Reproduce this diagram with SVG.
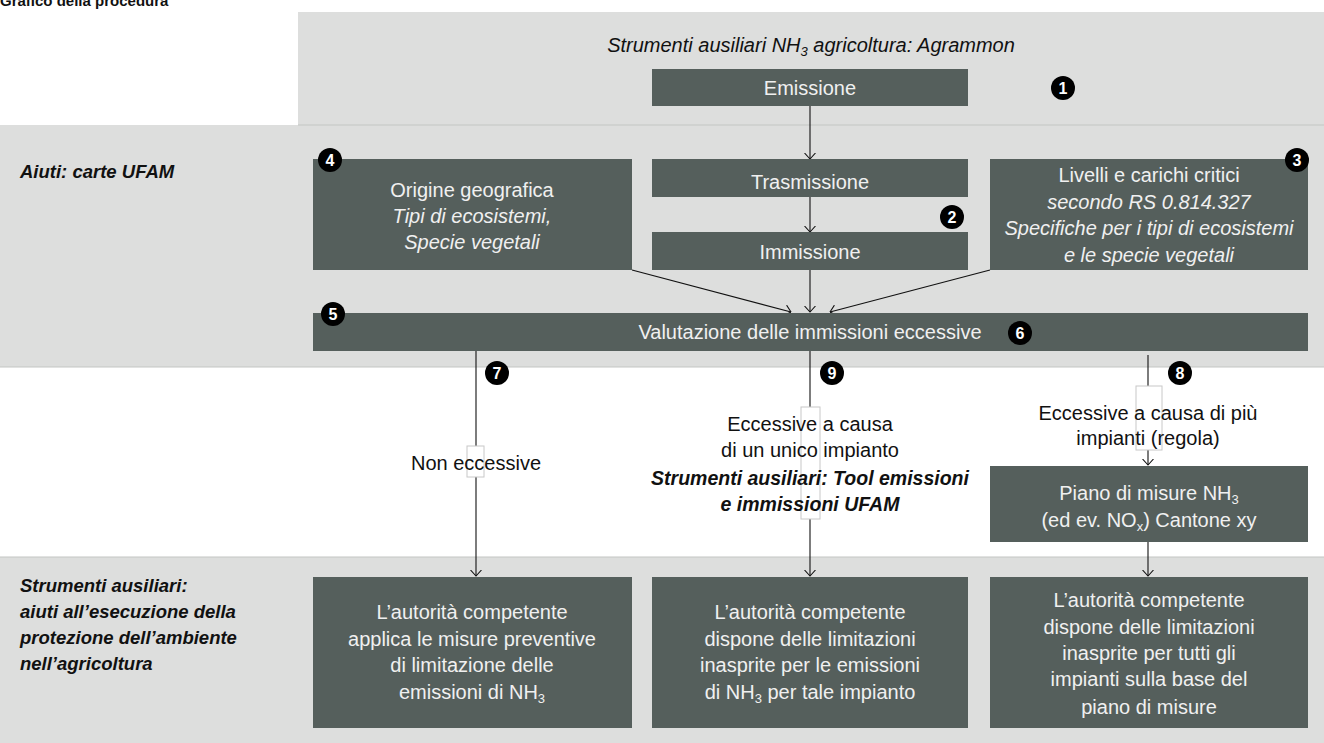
<svg xmlns="http://www.w3.org/2000/svg" width="1324" height="743" viewBox="0 0 1324 743">
<defs>
<style>
.band{fill:#dddedd}
.bline{stroke:#c4c5c4;stroke-width:1.2}
.box{fill:#555f5c}
.bt{font-family:"Liberation Sans",Arial,sans-serif;font-size:20px;fill:#f0f0f0;text-anchor:middle}
.it{font-style:italic}
.lt{font-family:"Liberation Sans",Arial,sans-serif;font-size:20px;fill:#111;text-anchor:middle}
.bi{font-weight:bold;font-style:italic;font-size:19.5px}
.side{font-family:"Liberation Sans",Arial,sans-serif;font-size:18.5px;font-weight:bold;font-style:italic;fill:#111}
.sub{font-size:13px}
.num circle{fill:#000}
.num text{font-family:"Liberation Sans",Arial,sans-serif;font-size:16px;font-weight:bold;fill:#fff;text-anchor:middle}
.con{stroke:#111;stroke-width:1.1;fill:none}
.lbox{fill:#fff;stroke:#c8c8c8;stroke-width:1}
</style>
<marker id="ah" viewBox="0 0 7 12" refX="6.5" refY="6" markerWidth="7" markerHeight="12" markerUnits="userSpaceOnUse" orient="auto">
<path d="M0.5,0.5 L6.5,6 L0.5,11.5" fill="none" stroke="#111" stroke-width="1.1"/>
</marker>
</defs>

<g id="background">
<rect x="298" y="12" width="1026" height="113" class="band"/>
<rect x="0" y="125" width="1324" height="242" class="band"/>
<rect x="0" y="557" width="1324" height="186" class="band"/>
<line x1="298" y1="125" x2="1324" y2="125" class="bline"/>
<line x1="0" y1="367" x2="1324" y2="367" class="bline"/>
<line x1="0" y1="557" x2="1324" y2="557" class="bline"/>
</g>

<g id="labels">
<text x="0" y="6" font-family="Liberation Sans,Arial,sans-serif" font-size="15" font-weight="bold" fill="#111">Grafico della procedura</text>
<text x="811" y="52" class="lt it">Strumenti ausiliari NH<tspan class="sub" dy="4">3</tspan><tspan dy="-4"> agricoltura: Agrammon</tspan></text>
<text x="20" y="178" class="side">Aiuti: carte UFAM</text>
<text class="side"><tspan x="20" y="592">Strumenti ausiliari:</tspan><tspan x="20" y="618">aiuti all’esecuzione della</tspan><tspan x="20" y="644">protezione dell’ambiente</tspan><tspan x="20" y="670">nell’agricoltura</tspan></text>
</g>

<g id="connectors">
<line x1="810" y1="106" x2="810" y2="159" class="con" marker-end="url(#ah)"/>
<line x1="810" y1="197" x2="810" y2="232" class="con" marker-end="url(#ah)"/>
<line x1="632" y1="270" x2="791" y2="312" class="con" marker-end="url(#ah)"/>
<line x1="810" y1="270" x2="810" y2="312" class="con" marker-end="url(#ah)"/>
<line x1="990" y1="270" x2="830" y2="312" class="con" marker-end="url(#ah)"/>
<line x1="476" y1="351" x2="476" y2="576" class="con" marker-end="url(#ah)"/>
<line x1="810" y1="351" x2="810" y2="576" class="con" marker-end="url(#ah)"/>
<line x1="1148" y1="355" x2="1148" y2="465" class="con" marker-end="url(#ah)"/>
<line x1="1148" y1="542" x2="1148" y2="576" class="con" marker-end="url(#ah)"/>
<rect x="467" y="446" width="17" height="31" class="lbox"/>
<rect x="801" y="407" width="19" height="112" class="lbox"/>
<rect x="1136" y="386" width="26" height="64" class="lbox"/>
<text x="476" y="470" class="lt">Non eccessive</text>
<text class="lt"><tspan x="810" y="431">Eccessive a causa</tspan><tspan x="810" y="457">di un unico impianto</tspan><tspan x="810" y="485" class="bi">Strumenti ausiliari: Tool emissioni</tspan><tspan x="810" y="511" class="bi">e immissioni UFAM</tspan></text>
<text class="lt"><tspan x="1148" y="420">Eccessive a causa di più</tspan><tspan x="1148" y="445">impianti (regola)</tspan></text>
</g>

<g id="node-emissione">
<rect x="652" y="69" width="316" height="37" class="box"/>
<text x="810" y="95" class="bt">Emissione</text>
</g>
<g id="node-trasmissione">
<rect x="652" y="159" width="316" height="38" class="box"/>
<text x="810" y="189" class="bt">Trasmissione</text>
</g>
<g id="node-immissione">
<rect x="652" y="232" width="316" height="38" class="box"/>
<text x="810" y="259" class="bt">Immissione</text>
</g>
<g id="node-origine">
<rect x="313" y="159" width="319" height="111" class="box"/>
<text class="bt"><tspan x="472" y="197">Origine geografica</tspan><tspan x="472" y="223" font-style="italic">Tipi di ecosistemi,</tspan><tspan x="472" y="249" font-style="italic">Specie vegetali</tspan></text>
</g>
<g id="node-livelli">
<rect x="990" y="159" width="318" height="111" class="box"/>
<text class="bt"><tspan x="1149" y="182">Livelli e carichi critici</tspan><tspan x="1149" y="209" font-style="italic">secondo RS 0.814.327</tspan><tspan x="1149" y="235" font-style="italic">Specifiche per i tipi di ecosistemi</tspan><tspan x="1149" y="262" font-style="italic">e le specie vegetali</tspan></text>
</g>
<g id="node-valutazione">
<rect x="313" y="313" width="995" height="38" class="box"/>
<text x="810" y="339" class="bt">Valutazione delle immissioni eccessive</text>
</g>
<g id="node-piano">
<rect x="990" y="466" width="318" height="76" class="box"/>
<text class="bt"><tspan x="1149" y="500">Piano di misure NH<tspan class="sub" dy="4">3</tspan></tspan><tspan x="1149" y="527">(ed ev. NO<tspan class="sub" dy="4">x</tspan><tspan dy="-4">) Cantone xy</tspan></tspan></text>
</g>
<g id="node-misure-preventive">
<rect x="313" y="577" width="319" height="151" class="box"/>
<text class="bt"><tspan x="472" y="619">L’autorità competente</tspan><tspan x="472" y="646">applica le misure preventive</tspan><tspan x="472" y="672">di limitazione delle</tspan><tspan x="472" y="699">emissioni di NH<tspan class="sub" dy="4">3</tspan></tspan></text>
</g>
<g id="node-limitazioni-impianto">
<rect x="652" y="577" width="316" height="151" class="box"/>
<text class="bt"><tspan x="810" y="619">L’autorità competente</tspan><tspan x="810" y="646">dispone delle limitazioni</tspan><tspan x="810" y="672">inasprite per le emissioni</tspan><tspan x="810" y="699">di NH<tspan class="sub" dy="4">3</tspan><tspan dy="-4"> per tale impianto</tspan></tspan></text>
</g>
<g id="node-limitazioni-tutti">
<rect x="990" y="577" width="318" height="151" class="box"/>
<text class="bt"><tspan x="1149" y="607">L’autorità competente</tspan><tspan x="1149" y="634">dispone delle limitazioni</tspan><tspan x="1149" y="660">inasprite per tutti gli</tspan><tspan x="1149" y="686">impianti sulla base del</tspan><tspan x="1149" y="714">piano di misure</tspan></text>
</g>

<g id="numbers" class="num">
<g id="n1"><circle cx="1063" cy="88" r="12"/><text x="1063" y="94">1</text></g>
<g id="n2"><circle cx="952" cy="217" r="12"/><text x="952" y="223">2</text></g>
<g id="n3"><circle cx="1297" cy="160" r="12"/><text x="1297" y="166">3</text></g>
<g id="n4"><circle cx="330" cy="160" r="12"/><text x="330" y="166">4</text></g>
<g id="n5"><circle cx="333" cy="314" r="12"/><text x="333" y="320">5</text></g>
<g id="n6"><circle cx="1020" cy="333" r="12"/><text x="1020" y="339">6</text></g>
<g id="n7"><circle cx="497" cy="373" r="12"/><text x="497" y="379">7</text></g>
<g id="n8"><circle cx="1180" cy="373" r="12"/><text x="1180" y="379">8</text></g>
<g id="n9"><circle cx="832" cy="373" r="12"/><text x="832" y="379">9</text></g>
</g>
</svg>
